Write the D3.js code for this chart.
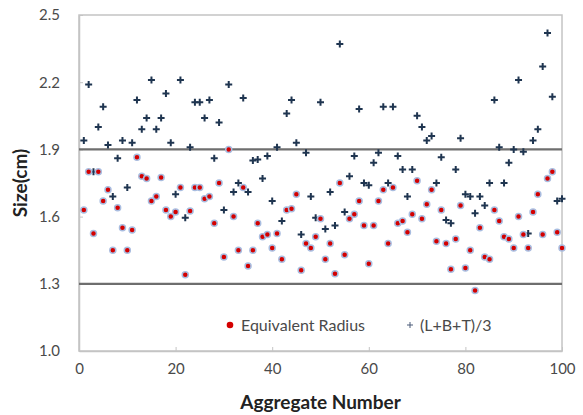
<!DOCTYPE html>
<html>
<head>
<meta charset="utf-8">
<script src="https://cdn.jsdelivr.net/npm/d3@7"></script>
<style>
  body { margin: 0; background: #fff; }
  svg text { font-family: Lato, "Open Sans", sans-serif; }
</style>
</head>
<body>
<div class="container"></div>
<script>
// aggregate index 1..100
const aggregates = d3.range(1, 101);

// Equivalent Radius (red dots)
const eqRadius = [
  1.63, 1.80, 1.525, 1.80, 1.67, 1.72, 1.45, 1.64, 1.55, 1.45,
  1.54, 1.865, 1.78, 1.77, 1.67, 1.69, 1.775, 1.63, 1.60, 1.62,
  1.73, 1.34, 1.625, 1.73, 1.73, 1.68, 1.69, 1.57, 1.75, 1.42,
  1.90, 1.60, 1.45, 1.73, 1.38, 1.45, 1.57, 1.51, 1.52, 1.46,
  1.525, 1.41, 1.63, 1.635, 1.70, 1.36, 1.48, 1.46, 1.51, 1.59,
  1.41, 1.48, 1.345, 1.75, 1.43, 1.59, 1.61, 1.67, 1.56, 1.39,
  1.56, 1.67, 1.72, 1.48, 1.73, 1.57, 1.58, 1.53, 1.61, 1.76,
  1.59, 1.655, 1.72, 1.49, 1.63, 1.48, 1.365, 1.50, 1.65, 1.37,
  1.45, 1.27, 1.55, 1.42, 1.41, 1.63, 1.58, 1.51, 1.50, 1.46,
  1.60, 1.52, 1.46, 1.62, 1.70, 1.52, 1.77, 1.80, 1.53, 1.46
];

// (L+B+T)/3 (plus markers)
const lbtMean = [
  1.94, 2.19, 1.80, 2.00, 2.09, 1.92, 1.69, 1.86, 1.94, 1.73,
  1.93, 2.12, 1.99, 2.04, 2.21, 1.99, 2.04, 2.15, 1.93, 1.70,
  2.21, 1.595, 1.91, 2.11, 2.11, 2.04, 2.12, 1.86, 2.02, 1.63,
  2.19, 1.71, 1.75, 2.13, 1.71, 1.85, 1.855, 1.77, 1.87, 1.67,
  1.91, 1.58, 2.06, 2.12, 1.93, 1.52, 1.885, 1.69, 1.595, 2.11,
  1.545, 1.71, 1.56, 2.37, 1.62, 1.78, 1.87, 2.08, 1.75, 1.74,
  1.84, 1.885, 2.09, 1.75, 2.09, 1.87, 1.81, 1.69, 1.81, 2.05,
  2.00, 1.94, 1.96, 1.75, 1.865, 1.585, 1.57, 1.81, 1.95, 1.70,
  1.69, 1.615, 1.69, 1.65, 1.75, 2.12, 1.91, 1.75, 1.84, 1.90,
  2.21, 1.89, 1.525, 1.94, 1.99, 2.27, 2.42, 2.135, 1.67, 1.68
];

const xTicks = [0, 20, 40, 60, 80, 100];
const yTicks = [1.0, 1.3, 1.6, 1.9, 2.2, 2.5];
const refLines = [1.3, 1.9];
const seriesNames = ["Equivalent Radius", "(L+B+T)/3"];

const w = 583;
const h = 415;
const margin = {top: 15, right: 21, bottom: 64, left: 79};

const xScale = d3.scaleLinear()
                 .domain([0, 100])
                 .range([margin.left, w - margin.right]);
const yScale = d3.scaleLinear()
                 .domain([1.0, 2.5])
                 .range([h - margin.bottom, margin.top]);

const svg = d3.select(".container")
              .append("svg")
              .attr("width", w)
              .attr("height", h);

// plot frame
svg.append("rect")
   .attr("x", xScale(0))
   .attr("y", yScale(2.5))
   .attr("width", xScale(100) - xScale(0))
   .attr("height", yScale(1.0) - yScale(2.5))
   .attr("fill", "none")
   .attr("stroke", "#c4c4c4")
   .attr("stroke-width", 1.5);

const xAxis = d3.axisBottom(xScale)
                .tickValues(xTicks)
                .tickSizeInner(-4)
                .tickSizeOuter(0)
                .tickPadding(12);
const yAxis = d3.axisLeft(yScale)
                .tickValues(yTicks)
                .tickSizeInner(-4)
                .tickSizeOuter(0)
                .tickPadding(19)
                .tickFormat(d3.format(".1f"));

const gx = svg.append("g")
   .attr("transform", "translate(0," + yScale(1.0) + ")")
   .call(xAxis);
const gy = svg.append("g")
   .attr("transform", "translate(" + xScale(0) + ",0)")
   .call(yAxis);

[gx, gy].forEach(g => {
  g.select(".domain").attr("stroke", "#c4c4c4").attr("stroke-width", 1.5);
  g.selectAll(".tick line").attr("stroke", "#c4c4c4");
  g.selectAll(".tick text")
   .attr("fill", "#4a4a4a")
   .style("font-size", "15px");
});

// reference lines
svg.selectAll(".ref")
   .data(refLines)
   .enter()
   .append("line")
   .attr("class", "ref")
   .attr("x1", xScale(0))
   .attr("x2", xScale(100))
   .attr("y1", d => yScale(d))
   .attr("y2", d => yScale(d))
   .attr("stroke", "#6e6e6e")
   .attr("stroke-width", 2.2);

// plus markers
svg.selectAll(".lbt")
   .data(aggregates)
   .enter()
   .append("path")
   .attr("class", "lbt")
   .attr("transform", (d, i) => "translate(" + xScale(d) + "," + yScale(lbtMean[i]) + ")")
   .attr("d", "M-3.5,0H3.5M0,-3.5V3.5")
   .attr("stroke", "#1f3550")
   .attr("stroke-width", 2);

// red dots
svg.selectAll(".eq")
   .data(aggregates)
   .enter()
   .append("circle")
   .attr("class", "eq")
   .attr("cx", d => xScale(d))
   .attr("cy", (d, i) => yScale(eqRadius[i]))
   .attr("r", 3)
   .attr("fill", "#d40000")
   .attr("stroke", "#a9bde0")
   .attr("stroke-width", 1.5);

// legend
const lg = svg.append("g");
lg.append("circle")
  .attr("cx", 230).attr("cy", 325).attr("r", 3.3)
  .attr("fill", "#d40000");
lg.append("text")
  .attr("x", 241).attr("y", 331)
  .attr("fill", "#4a4a4a").style("font-size", "16px")
  .text(seriesNames[0]);
lg.append("path")
  .attr("d", "M407,325H413M410,322V328")
  .attr("stroke", "#4a5a78").attr("stroke-width", 1);
lg.append("text")
  .attr("x", 420).attr("y", 331)
  .attr("fill", "#4a4a4a").style("font-size", "16px")
  .text(seriesNames[1]);

// axis titles
svg.append("text")
   .attr("x", (xScale(0) + xScale(100)) / 2)
   .attr("y", 409)
   .attr("text-anchor", "middle")
   .attr("fill", "#222")
   .style("font-size", "19px")
   .style("font-weight", "bold")
   .text("Aggregate Number");

svg.append("text")
   .attr("transform", "translate(27," + yScale(1.75) + ") rotate(-90)")
   .attr("text-anchor", "middle")
   .attr("fill", "#222")
   .style("font-size", "19px")
   .style("font-weight", "bold")
   .text("Size(cm)");
</script>
</body>
</html>
